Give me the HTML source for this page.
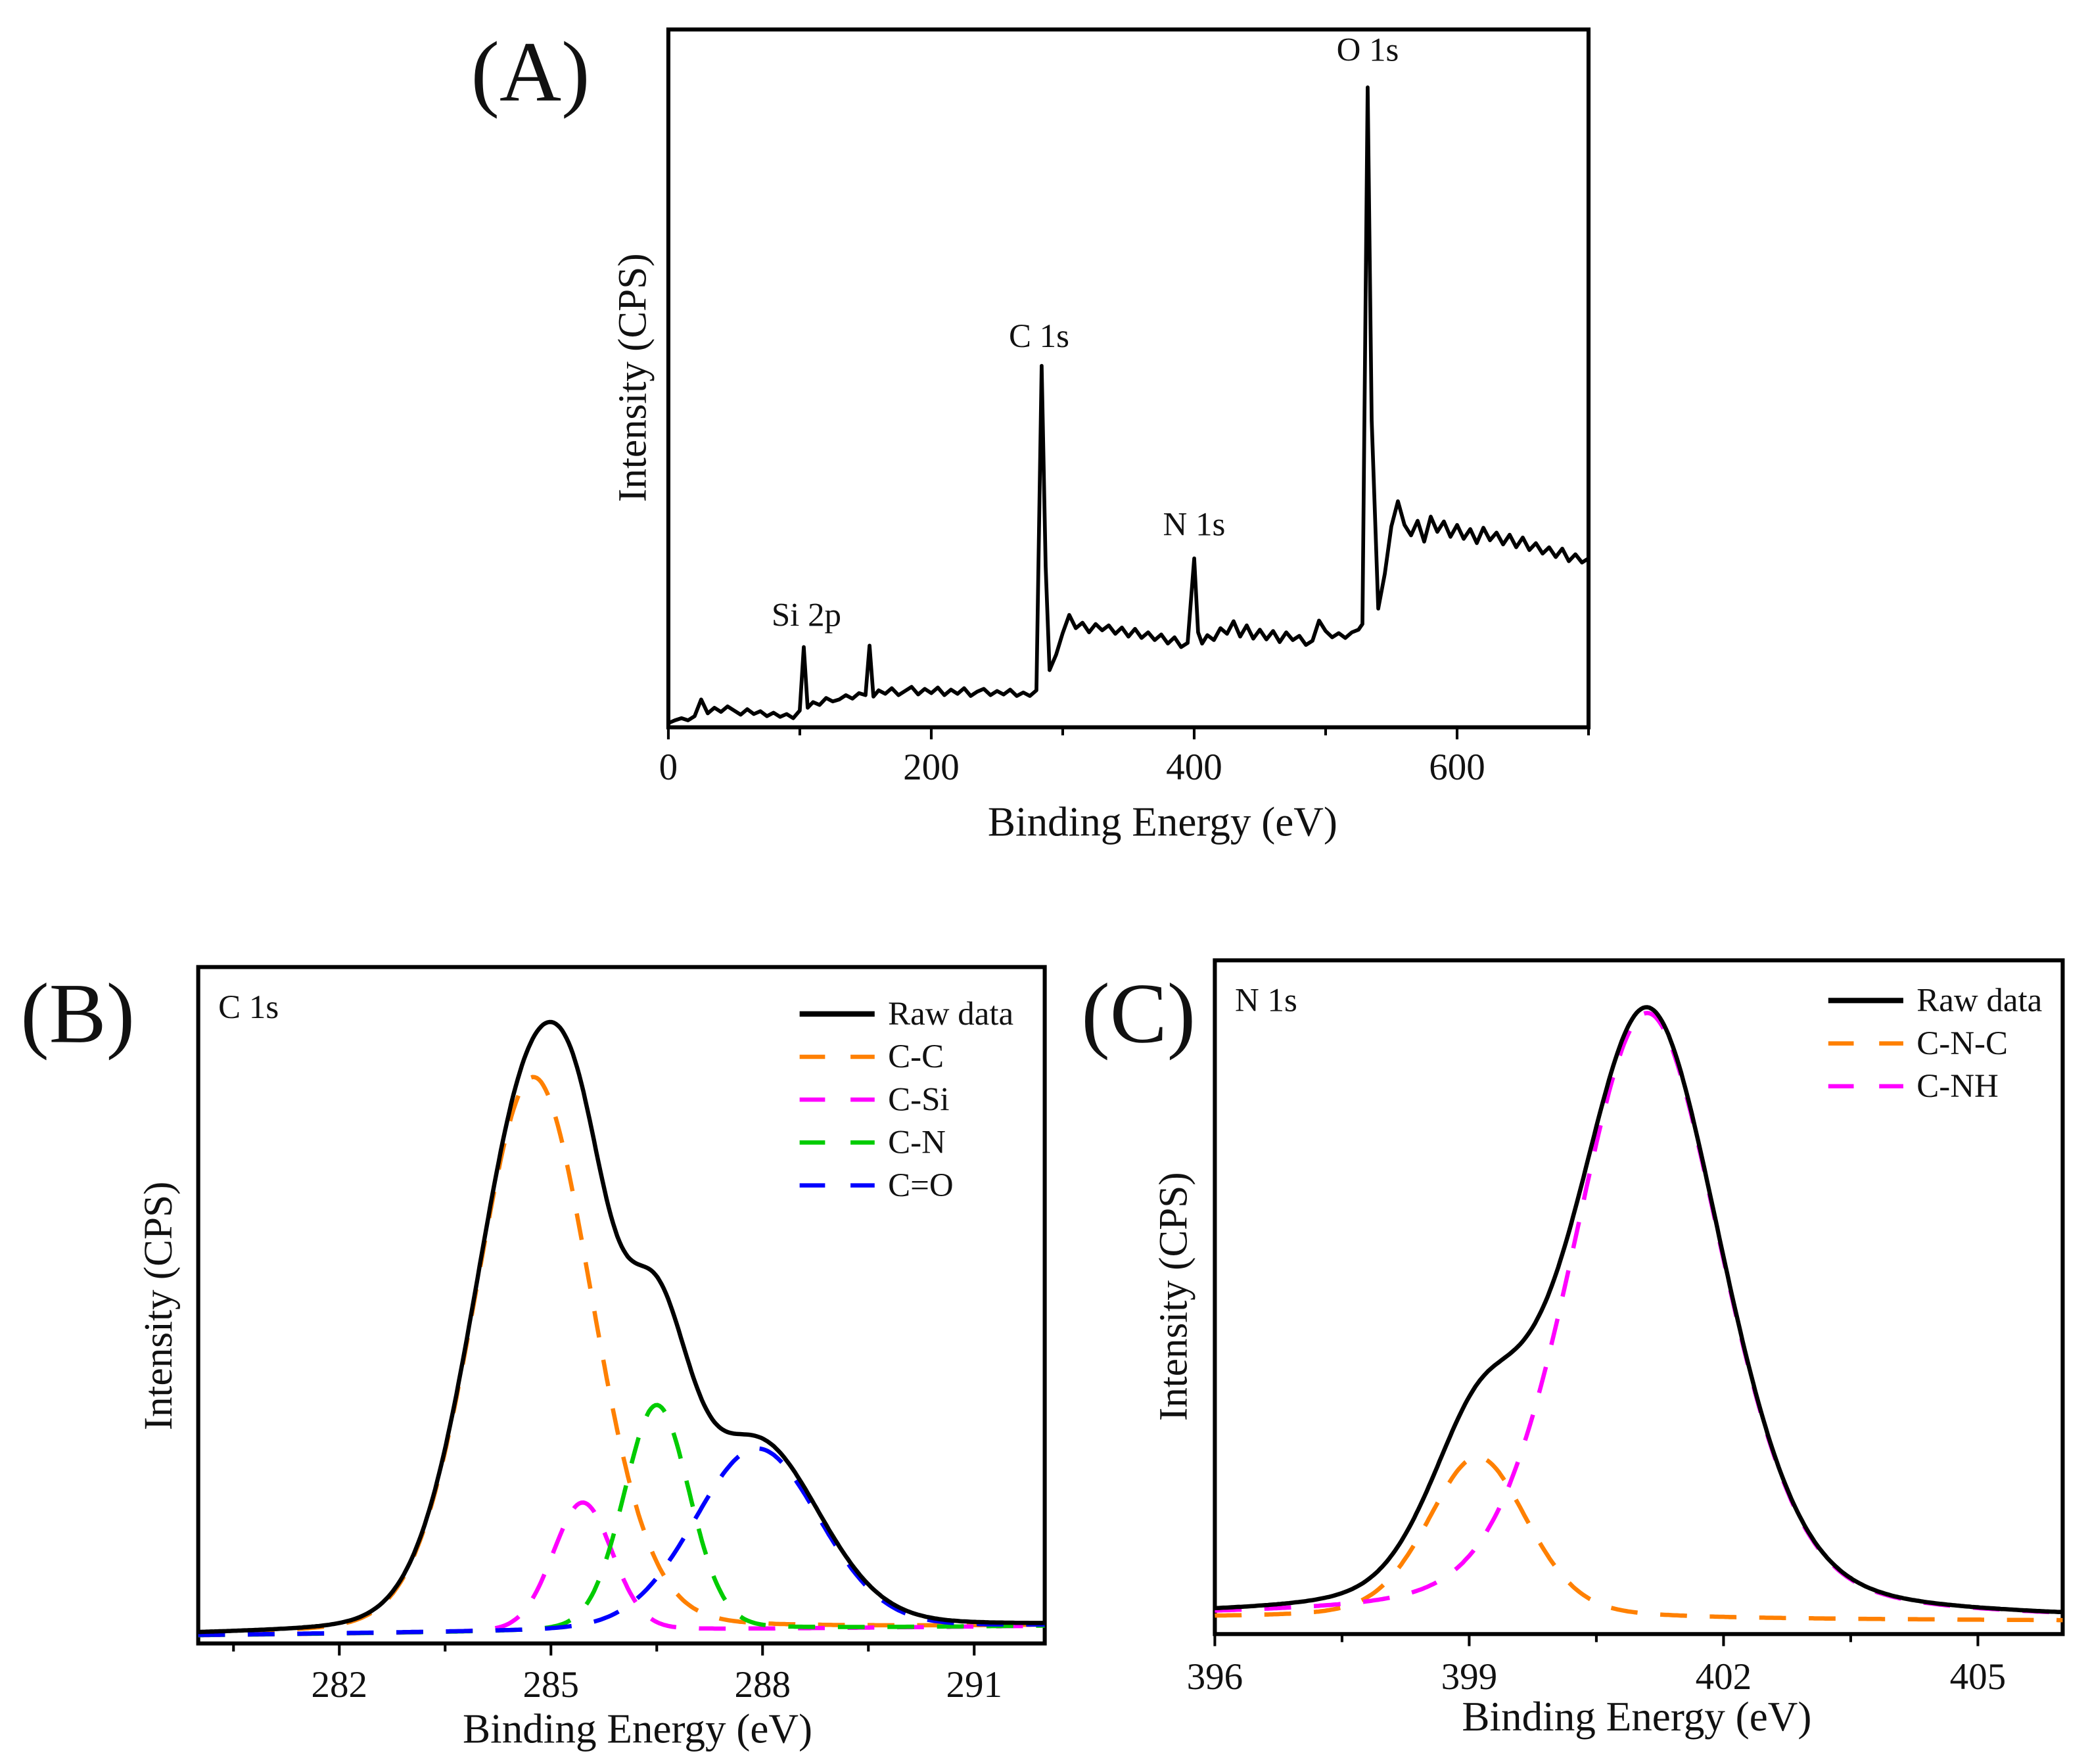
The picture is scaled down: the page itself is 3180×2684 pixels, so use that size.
<!DOCTYPE html>
<html><head><meta charset="utf-8"><style>
html,body{margin:0;padding:0;background:#fff;}
svg{display:block;}
text{font-family:"Liberation Serif",serif;fill:#111;}
</style></head><body>
<svg id="fig" width="3180" height="2684" viewBox="0 0 1560.4 1317" preserveAspectRatio="none" xmlns="http://www.w3.org/2000/svg"></svg>
<script>
// ---------- Panel A: survey spectrum ----------
const surveyEnergy = [0,5,10,15,20,25,30,35,40,45,50,55,60,65,70,75,80,85,90,95,100,103,106,110,115,120,125,130,135,140,145,150,153,156,160,165,170,175,180,185,190,195,200,205,210,215,220,225,230,235,240,245,250,255,260,265,270,275,280,284,287,290,295,300,305,310,315,320,325,330,335,340,345,350,355,360,365,370,375,380,385,390,395,400,403,406,410,415,420,425,430,435,440,445,450,455,460,465,470,475,480,485,490,495,500,505,510,515,520,525,528,532,535,540,545,550,555,560,565,570,575,580,585,590,595,600,605,610,615,620,625,630,635,640,645,650,655,660,665,670,675,680,685,690,695,700];
const surveyIntensity = [0.6,1.0,1.3,1.0,1.6,4.0,2.0,2.8,2.2,3.0,2.4,1.8,2.6,1.9,2.3,1.6,2.1,1.5,1.9,1.3,2.4,11.5,2.8,3.6,3.2,4.2,3.7,4.0,4.6,4.1,4.9,4.6,11.7,4.4,5.3,4.8,5.6,4.6,5.2,5.8,4.7,5.5,4.9,5.7,4.6,5.4,4.8,5.6,4.5,5.1,5.5,4.6,5.2,4.7,5.4,4.5,5.0,4.5,5.3,51.8,23.0,8.2,10.4,13.5,16.1,14.2,15.0,13.6,14.8,13.9,14.6,13.4,14.3,13.0,14.1,12.8,13.6,12.5,13.3,12.0,12.9,11.5,12.1,24.2,13.6,12.0,13.2,12.5,14.2,13.4,15.2,13.0,14.6,12.7,14.0,12.6,13.8,12.2,13.6,12.5,13.1,11.8,12.4,15.3,13.8,12.9,13.5,12.8,13.6,14.0,14.8,91.7,44.0,17.0,22.0,28.8,32.4,29.0,27.5,29.6,26.6,30.2,28.0,29.5,27.3,29.0,27.0,28.4,26.4,28.6,26.8,27.9,26.2,27.6,25.8,27.2,25.4,26.4,24.9,25.8,24.4,25.6,23.8,24.8,23.6,24.2];
const surveyTicks = [0,100,200,300,400,500,600,700];
const surveyTickLabels = ["0","","200","","400","","600",""];
const surveyPeakLabels = ["Si 2p","C 1s","N 1s","O 1s"];
const surveyPeakEnergy = [105,282,400,532];
const surveyPeakInt = [14.5,54.5,27.5,95.5];

// ---------- Panel B: C 1s ----------
const c1sNames = ["C-C","C-Si","C-N","C=O"];
const c1sCenter = [284.75,285.45,286.5,287.92];
const c1sHeight = [82,19,33.3,26.7];
const c1sFwhm = [1.95,1.0,1.1,2.1];
const c1sBaseline = [1.2,2.6];
const c1sTicks = [280.5,282,283.5,285,286.5,288,289.5,291];
const c1sTickLabels = ["","282","","285","","288","","291"];

// ---------- Panel C: N 1s ----------
const n1sNames = ["C-N-C","C-NH"];
const n1sCenter = [399.1,401.1];
const n1sHeight = [24,90];
const n1sFwhm = [1.4,2.1];
const n1sBaseline = [2.4,2.0];
const n1sTicks = [396,397.5,399,400.5,402,403.5,405];
const n1sTickLabels = ["396","","399","","402","","405"];

const NS="http://www.w3.org/2000/svg";
const svg=document.getElementById('fig');
function mk(tag,attrs,parent){const e=document.createElementNS(NS,tag);for(const k in attrs)e.setAttribute(k,attrs[k]);(parent||svg).appendChild(e);return e;}
function txt(s,x,y,size,parent,anchor,rot){const t=mk('text',{x:x,y:y,'font-size':size,'text-anchor':anchor||'middle'},parent);if(rot)t.setAttribute('transform',`rotate(-90 ${x} ${y})`);t.textContent=s;return t;}
function axis(x0,x1,y0,y1,xmin,xmax,ymin,ymax){return {sx:v=>x0+(v-xmin)/(xmax-xmin)*(x1-x0),sy:v=>y1-(v-ymin)/(ymax-ymin)*(y1-y0)};}
function pv(x,c,h,f,eta){const s=f/2.3548,g=Math.exp(-(x-c)*(x-c)/(2*s*s)),l=1/(1+Math.pow((x-c)/(f/2),2));return h*((1-eta)*g+eta*l);}

function frame(g,x0,x1,y0,y1,ticks,labels,ax,ly,titleX,titleY,yTitleX,yTitleY){
  const r=mk('rect',{x:x0,y:y0,width:x1-x0,height:y1-y0,fill:'none',stroke:'#000','stroke-width':3},g);
  
  
  ticks.forEach((t,i)=>{
    const l=mk('line',{x1:ax.sx(t),x2:ax.sx(t),y1:y1,y2:y1+(labels[i]?9:6),stroke:'#000','stroke-width':2},g);
    
    
    if(labels[i]){const tl=txt(labels[i],ax.sx(t),ly,28,g);
      
      }
  });
  const xt=txt('Binding Energy (eV)',titleX,titleY,31,g);
  
  
  const yt=txt('Intensity (CPS)',yTitleX,yTitleY,30,g,'middle',true);
  
  
}

// Panel A
(function(){
  const g=mk('g',{});
  
  
  const ax=axis(499,1186,22,543,0,700,0,100);
  frame(g,499,1186,22,543,surveyTicks,surveyTickLabels,ax,582,868,624,482,282);
  const p=surveyEnergy.map((e,i)=>`${i?'L':'M'}${ax.sx(e).toFixed(1)},${ax.sy(surveyIntensity[i]).toFixed(1)}`).join('');
  const path=mk('path',{d:p,fill:'none',stroke:'#000','stroke-width':2.8,'stroke-linejoin':'round'},g);
  
  
  surveyPeakLabels.forEach((s,i)=>{const t=txt(s,ax.sx(surveyPeakEnergy[i]),ax.sy(surveyPeakInt[i]),25,g);
    
    });
  const pl=txt('(A)',396,75,64,g);
  
  
})();

function fitPanel(opts){
  const g=mk('g',{});
  
  
  const ax=axis(opts.x0,opts.x1,opts.y0,opts.y1,opts.xmin,opts.xmax,0,100);
  frame(g,opts.x0,opts.x1,opts.y0,opts.y1,opts.ticks,opts.labels,ax,opts.ly,opts.tx,opts.ty,opts.ytx,opts.yty);
  const N=400,xs=[];for(let i=0;i<=N;i++)xs.push(opts.xmin+(opts.xmax-opts.xmin)*i/N);
  const base=x=>opts.base[0]+(opts.base[1]-opts.base[0])*(x-opts.xmin)/(opts.xmax-opts.xmin);
  opts.names.forEach((n,k)=>{
    const d=xs.map((x,i)=>`${i?'L':'M'}${ax.sx(x).toFixed(1)},${ax.sy(base(x)+pv(x,opts.c[k],opts.h[k],opts.f[k],opts.eta)).toFixed(1)}`).join('');
    const p=mk('path',{d:d,fill:'none',stroke:opts.colors[k],'stroke-width':3.2,'stroke-dasharray':'20 17'},g);
    
    
  });
  const d=xs.map((x,i)=>{let s=base(x);opts.names.forEach((n,k)=>s+=pv(x,opts.c[k],opts.h[k],opts.f[k],opts.eta));return `${i?'L':'M'}${ax.sx(x).toFixed(1)},${ax.sy(s).toFixed(1)}`;}).join('');
  const raw=mk('path',{d:d,fill:'none',stroke:'#000','stroke-width':3.2},g);
  
  
  const items=['Raw data'].concat(opts.names), cols=['#000'].concat(opts.colors);
  items.forEach((s,i)=>{
    const y=opts.legY+i*32;
    const l=mk('line',{x1:opts.legX,x2:opts.legX+56,y1:y,y2:y,stroke:cols[i],'stroke-width':i?3.2:4,'stroke-dasharray':i?'19 19':'none'},g);
    
    
    const t=txt(s,opts.legX+66,y+8,25,g,'start');
    
    
  });
  const tl=txt(opts.title,opts.x0+15,opts.y0+38,25,g,'start');
  
  
  const pl=txt(opts.plabel,opts.plx,opts.ply,64,g);
  
  
}

fitPanel({name:'panel-b-c1s',x0:148,x1:780,y0:722,y1:1227,xmin:280,xmax:292,ticks:c1sTicks,labels:c1sTickLabels,ly:1267,tx:476,ty:1301,ytx:128,yty:975,
  names:c1sNames,c:c1sCenter,h:c1sHeight,f:c1sFwhm,base:c1sBaseline,eta:0.12,colors:['#ff8000','#ff00ff','#00cc00','#0000ff'],
  legX:597,legY:757,title:'C 1s',plabel:'(B)',plx:58,ply:778});
fitPanel({name:'panel-c-n1s',x0:907,x1:1540,y0:717,y1:1220,xmin:396,xmax:406,ticks:n1sTicks,labels:n1sTickLabels,ly:1261,tx:1222,ty:1292,ytx:886,yty:968,
  names:n1sNames,c:n1sCenter,h:n1sHeight,f:n1sFwhm,base:n1sBaseline,eta:0.3,colors:['#ff8000','#ff00ff'],
  legX:1365,legY:747,title:'N 1s',plabel:'(C)',plx:850,ply:778});
</script>
</body></html>
